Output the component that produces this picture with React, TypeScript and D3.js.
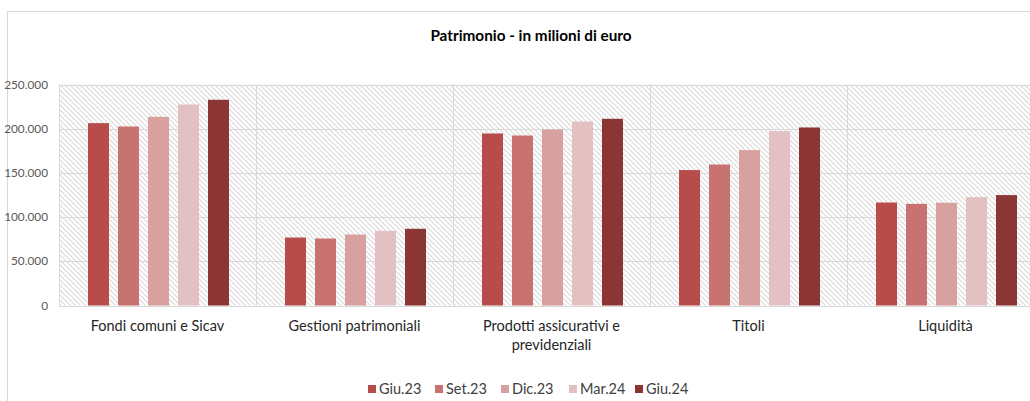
import React from 'react';
import * as d3 from 'd3';

const categories = ['Fondi comuni e Sicav', 'Gestioni patrimoniali', 'Prodotti assicurativi e previdenziali', 'Titoli', 'Liquidità'];
const seriesNames = ['Giu.23', 'Set.23', 'Dic.23', 'Mar.24', 'Giu.24'];
const colors = ['#b84c4a', '#c87371', '#d8a09f', '#e3c1c2', '#8b3634'];

// values per series, one per category (milioni di euro)
const giu23 = [206300, 76900, 194600, 153200, 116500];
const set23 = [202500, 75800, 192300, 159500, 115000];
const dic23 = [213400, 80300, 199100, 175800, 116200];
const mar24 = [227400, 84500, 208100, 197300, 122600];
const giu24 = [232700, 86800, 211200, 201400, 124900];
const seriesValues = [giu23, set23, dic23, mar24, giu24];

const yTicks = [0, 50000, 100000, 150000, 200000, 250000];

const W = 1030, H = 401;
const margin = { left: 59, right: 1044, top: 84.5, bottom: 305.5 };

const fmt = (v: number) => d3.format(',')(v).replace(/,/g, '.');

// greedy word wrap by character count
function wrap(label: string, maxChars = 24): string[] {
    const words = label.split(' ');
    const lines: string[] = [];
    let cur = '';
    words.forEach(w => {
        const next = cur ? cur + ' ' + w : w;
        if (next.length > maxChars && cur) {
            lines.push(cur);
            cur = w;
        } else {
            cur = next;
        }
    });
    if (cur) lines.push(cur);
    return lines;
}

export default function App() {
    const x0 = d3.scaleBand<string>().domain(categories).range([margin.left, margin.right]).padding(0);
    const x1 = d3.scaleBand<string>().domain(seriesNames)
        .range([24.5, x0.bandwidth() - 22.5])
        .paddingInner(0.3).paddingOuter(0.15);
    const y = d3.scaleLinear().domain([0, 250000]).range([margin.bottom, margin.top]);

    const font = 'Lato, Carlito, Calibri, sans-serif';

    // legend layout
    const legendX = [368, 435, 501, 569, 635];

    return (
        <div style={{ position: 'absolute', left: 0, top: 0 }}>
            <svg width={W} height={H} style={{ display: 'block', fontFamily: font }}>
                <defs>
                    <pattern id="hatch" patternUnits="userSpaceOnUse" width="5" height="5">
                        <rect width="5" height="5" fill="#ffffff" />
                        <path d="M-1,-1 L6,6 M-1,4 L1,6 M4,-1 L6,1" stroke="#dadada" strokeWidth="1.2" />
                    </pattern>
                </defs>
                <rect x={0} y={0} width={W} height={H} fill="#ffffff" />
                <rect x={7.5} y={11.5} width={W + 20} height={H + 20} fill="#ffffff" stroke="#d9d9d9" />

                <text x={531} y={36} dy="0.35em" textAnchor="middle" fontSize={15.3} fontWeight="bold" fill="#000000">
                    Patrimonio - in milioni di euro
                </text>

                {/* plot background */}
                <rect x={margin.left} y={margin.top} width={margin.right - margin.left}
                    height={margin.bottom - margin.top} fill="url(#hatch)" />

                {/* horizontal gridlines */}
                {yTicks.map(t => (
                    <line key={'g' + t} x1={margin.left} x2={margin.right} y1={Math.round(y(t)) + 0.5} y2={Math.round(y(t)) + 0.5}
                        stroke="#d9d9d9" strokeWidth={1} />
                ))}
                {/* vertical category gridlines */}
                {categories.map(c => (
                    <line key={'v' + c} x1={(x0(c) as number) + 0.5} x2={(x0(c) as number) + 0.5}
                        y1={margin.top} y2={margin.bottom} stroke="#d9d9d9" strokeWidth={1} />
                ))}

                {/* y tick labels */}
                {yTicks.map(t => (
                    <text key={'t' + t} x={48} y={y(t)} dy="0.35em" textAnchor="end" fontSize={11.8} fill="#595959">
                        {fmt(t)}
                    </text>
                ))}

                {/* bars */}
                {categories.map((c, ci) => (
                    <g key={'c' + c} transform={`translate(${x0(c)},0)`}>
                        {seriesNames.map((s, si) => {
                            const v = seriesValues[si][ci];
                            return (
                                <rect key={s} x={x1(s)} y={y(v)} width={x1.bandwidth()}
                                    height={y(0) - y(v)} fill={colors[si]} />
                            );
                        })}
                    </g>
                ))}

                {/* category axis line */}
                <line x1={margin.left} x2={margin.right} y1={Math.round(y(0)) + 0.5} y2={Math.round(y(0)) + 0.5}
                    stroke="#d9d9d9" />

                {/* category labels */}
                {categories.map(c => {
                    const cx = (x0(c) as number) + x0.bandwidth() / 2;
                    return (
                        <text key={'l' + c} x={cx} y={326} textAnchor="middle" fontSize={14.5} fill="#262626">
                            {wrap(c).map((line, i) => (
                                <tspan key={i} x={cx} dy={i === 0 ? '0.35em' : 19}>{line}</tspan>
                            ))}
                        </text>
                    );
                })}

                {/* legend */}
                {seriesNames.map((s, i) => (
                    <g key={'lg' + s} transform={`translate(${legendX[i]},389)`}>
                        <rect x={0} y={-4} width={8} height={8} fill={colors[i]} />
                        <text x={11} y={0} dy="0.35em" fontSize={14.5} fill="#404040">{s}</text>
                    </g>
                ))}
            </svg>
        </div>
    );
}
